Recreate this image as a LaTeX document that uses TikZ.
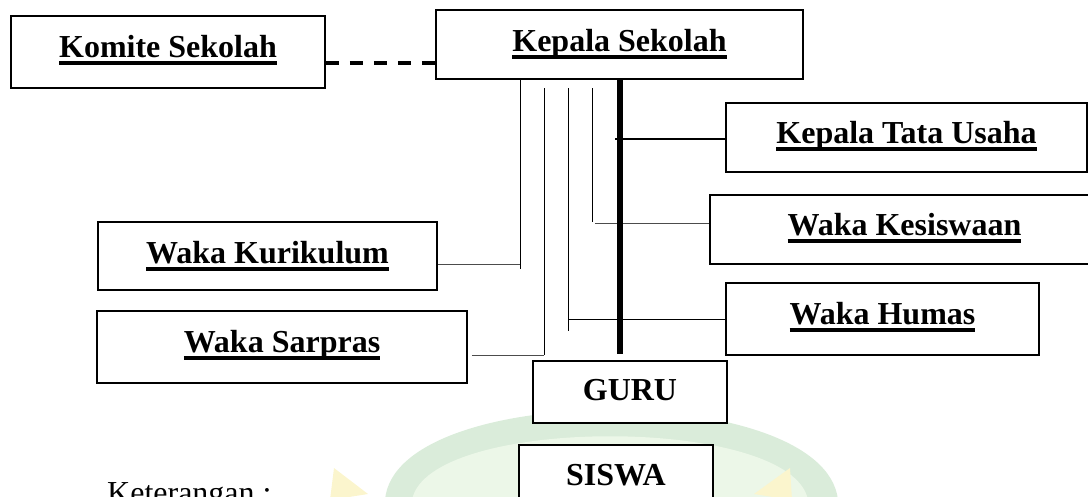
\documentclass[tikz,border=0pt]{standalone}
\usepackage{fontspec}
\setmainfont{Liberation Serif}

\definecolor{hijaumuda}{RGB}{218,236,218}
\definecolor{hijaupucat}{RGB}{236,247,232}
\definecolor{kuningpucat}{RGB}{251,245,205}

\newsavebox{\teksbox}
\newcommand{\garis}[1]{\sbox{\teksbox}{#1}\rlap{\rule[-7.6pt]{\wd\teksbox}{3.8pt}}\usebox{\teksbox}}

\tikzset{
  kotak/.style={draw, fill=white, line width=1.8pt, inner sep=0pt,
    font=\bfseries\fontsize{32}{38}\selectfont, text height=22pt, text depth=11pt},
  tipis/.style={line width=1pt, black!70},
  putus/.style={line width=4pt, dash pattern=on 13pt off 11pt},
  tebal/.style={line width=5.5pt},
}

\begin{document}
\begin{tikzpicture}[x=1pt, y=-1pt]
\useasboundingbox (0,0) rectangle (1088,496);
%%%%%%%%%%%%%%%%%%%%%%%%%%%%%%%% watermark
\fill[hijaumuda] (385,500) .. controls (395,380) and (825,380) .. (838,500) -- cycle;
\fill[hijaupucat] (412,500) .. controls (428,415) and (792,415) .. (808,500) -- cycle;
\fill[kuningpucat] (330,500) -- (334,468) -- (368,494) -- cycle;
\fill[kuningpucat] (792,500) -- (790,468) -- (754,494) -- cycle;
%%%%%%%%%%%%%%%%%%%%%%%%%%%%%%%% boxes
\node[kotak, minimum width=314pt, minimum height=72pt] (komite) at (168,52) {\garis{Komite Sekolah}};
\node[kotak, minimum width=367pt, minimum height=69pt, text depth=8pt] (kepala) at (619.5,44.5) {\garis{Kepala Sekolah}};
\node[kotak, minimum width=361pt, minimum height=69pt] (ktu) at (906.5,137.5) {\garis{Kepala Tata Usaha}};
\node[kotak, minimum width=389pt, minimum height=69pt] (kesiswaan) at (904.5,229.5) {\garis{Waka Kesiswaan}};
\node[kotak, minimum width=339pt, minimum height=68pt, text depth=8pt] (kurikulum) at (267.5,256) {\garis{Waka Kurikulum}};
\node[kotak, minimum width=313pt, minimum height=72pt] (humas) at (882.5,319) {\garis{Waka Humas}};
\node[kotak, minimum width=370pt, minimum height=72pt] (sarpras) at (282,347) {\garis{Waka Sarpras}};
\node[kotak, minimum width=194pt, minimum height=62pt, text depth=5pt] (guru) at (630,392) {GURU};
\node[kotak, minimum width=194pt, minimum height=70pt] (siswa) at (616,480) {SISWA};
\node[anchor=base west, inner sep=0pt, font=\fontsize{32}{38}\selectfont] (ket) at (107,503) {Keterangan :};
%%%%%%%%%%%%%%%%%%%%%%%%%%%%%%%% lines
\coordinate (ds) at ([yshift=-11pt]komite.east);
\draw[putus] (ds) -- (ds -| kepala.west);
% Waka Kurikulum
\coordinate (ku) at (520,264);
\draw[tipis, black] (kepala.south -| ku) -- ++(0,189);
\draw[tipis] (kurikulum.east |- ku) -- (ku);
% Waka Sarpras
\coordinate (sa) at (544,355);
\draw[tipis, black] (sa) -- ++(0,-267);
\draw[tipis] (sarpras.east |- sa) ++(4,0) -- (sa);
% Waka Humas
\coordinate (hu) at (568,319);
\draw[tipis, black] (hu) ++(0,-231) -- ++(0,243);
\draw[tipis, black] (hu) -- (humas.west);
% Waka Kesiswaan
\coordinate (ks) at (592,223);
\draw[tipis, black] (ks) ++(0,-135) -- ++(0,134);
\draw[tipis] (ks) ++(3,0) -- (kesiswaan.west |- ks);
% Kepala Tata Usaha, GURU
\coordinate (tu) at (620,139);
\coordinate (gt) at ([yshift=6pt]guru.north);
\draw[tebal] (kepala.south -| tu) -- (gt -| tu);
\draw[line width=1.6pt] (tu) ++(-5,0) -- (ktu.west |- tu);
\end{tikzpicture}
\end{document}
